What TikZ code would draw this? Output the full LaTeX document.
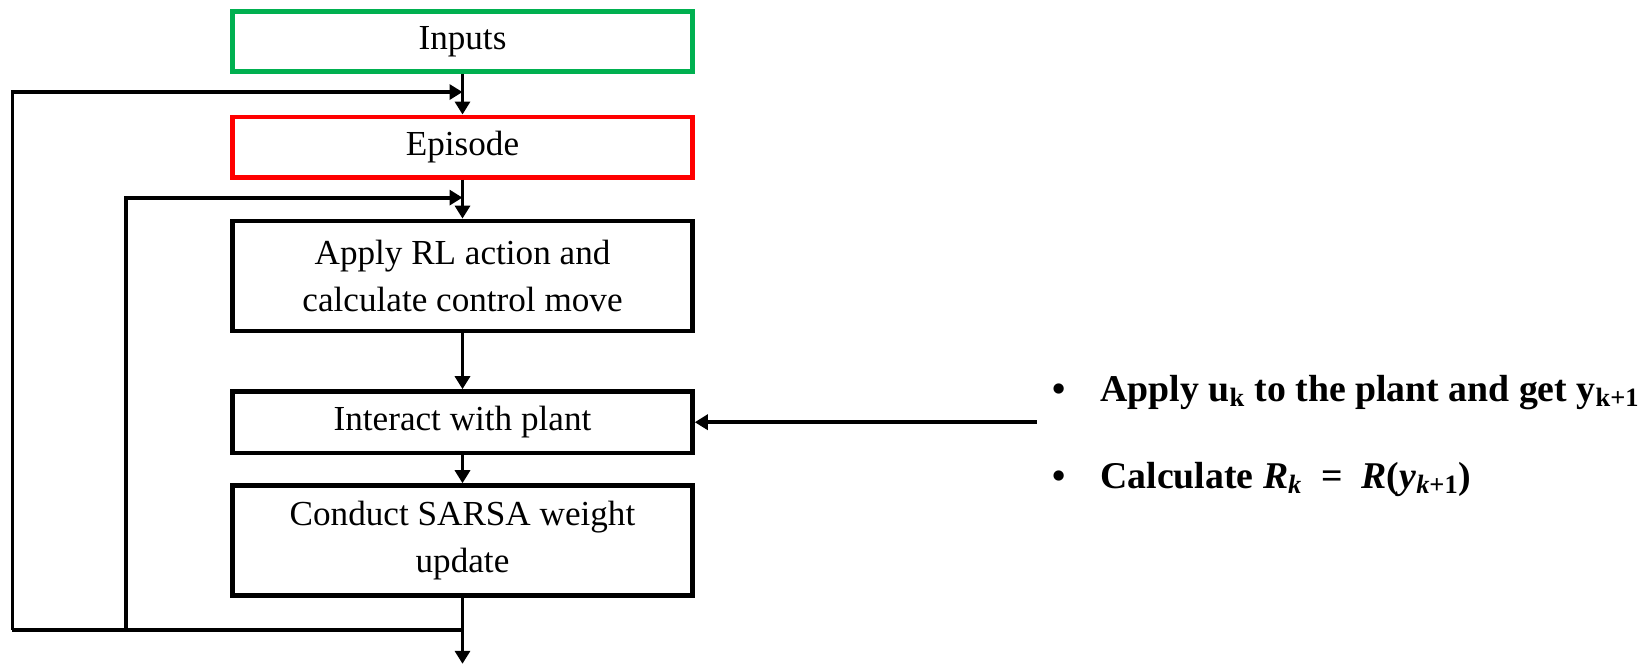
\documentclass[tikz,border=0pt]{standalone}
\usepackage{amsmath}
\usepackage{fontspec}
\setmainfont{Liberation Serif}
\usetikzlibrary{arrows.meta, positioning}
\definecolor{inputgreen}{RGB}{0,176,80}
\definecolor{episodered}{RGB}{255,0,0}

\begin{document}
\begin{tikzpicture}[
        step_box/.style={
            draw,
            rectangle,
            minimum width=9.2cm,
            minimum height=1.21cm,
            line width=2.6pt,
            align=center,
            font=\fontsize{20}{27}\selectfont
        },
        arrow_style/.style={
            -{Triangle[length=0.26cm, width=0.3cm]},
            line width=2.2pt
        },
        line_style/.style={
            line width=2.2pt
        },
        note_text/.style={
            anchor=base west,
            inner sep=0pt,
            font=\fontsize{21.5}{25}\selectfont\bfseries
        }
    ]
        \useasboundingbox (0,0) rectangle (32.84,-13.3);
        % main chain
        \node[step_box, draw=inputgreen] (inputs) at (9.25,-0.83) {Inputs};
        \node[step_box, draw=episodered, below=0.81cm of inputs] (episode) {Episode};
        \node[step_box, minimum height=2.2cm, below=0.78cm of episode] (apply) {Apply RL action and\\calculate control move};
        \node[step_box, minimum height=1.23cm, below=1.12cm of apply] (interact) {Interact with plant};
        \node[step_box, minimum height=2.2cm, below=0.56cm of interact] (conduct) {Conduct SARSA weight\\update};
        % loop points
        \coordinate[below=0.36cm of inputs.south] (outer_join);
        \coordinate[below=0.36cm of episode.south] (inner_join);
        \coordinate[below=0.64cm of conduct.south] (bottom_join);
        \coordinate[below=0.68cm of bottom_join] (out_end);
        \coordinate[left=9cm of outer_join] (outer_top);
        \coordinate[left=6.73cm of inner_join] (inner_top);
        \coordinate[left=9cm of bottom_join] (outer_bottom);
        \coordinate[left=6.73cm of bottom_join] (inner_bottom);
        \coordinate[right=6.84cm of interact.east] (plant_in);
        % connectors
        \draw[arrow_style] (inputs) -- (episode);
        \draw[arrow_style] (episode) -- (apply);
        \draw[arrow_style] (apply) -- (interact);
        \draw[arrow_style] (interact) -- (conduct);
        \draw[arrow_style] (conduct) -- (out_end);
        \draw[line_style] (bottom_join) -- (outer_bottom);
        \draw[arrow_style] (outer_bottom) -- (outer_top) -- (outer_join);
        \draw[arrow_style] (inner_bottom) -- (inner_top) -- (inner_join);
        \draw[arrow_style] (plant_in) -- (interact);
        % notes
        \node[note_text] (note_apply) at (21.04,-8.02) {\makebox[0.96cm][l]{\textbullet}Apply u\textsubscript{k} to the plant and get y\textsubscript{k+1}};
        \node[note_text] (note_reward) at (21.04,-9.76) {\makebox[0.96cm][l]{\textbullet}Calculate \textit{R}\textsubscript{\textit{k}}\enspace=\enspace\textit{R}(\textit{y}\textsubscript{\textit{k}+1})};
    \end{tikzpicture}
\end{document}
